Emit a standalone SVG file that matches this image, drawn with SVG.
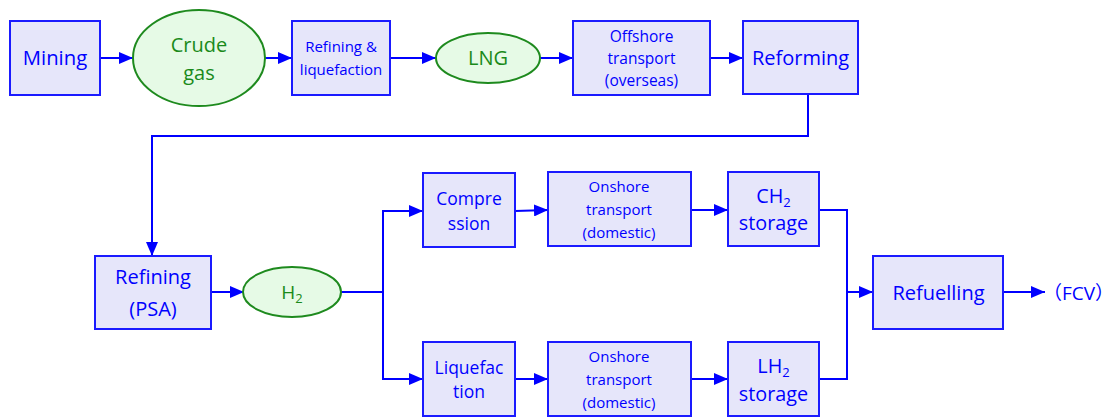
<svg xmlns="http://www.w3.org/2000/svg" width="1116" height="417" viewBox="0 0 1116 417">
<defs>
<marker id="ah" markerWidth="14" markerHeight="12" refX="14" refY="6" orient="auto" markerUnits="userSpaceOnUse">
<path d="M0,0 L14,6 L0,12 Z" fill="#0000ff"/>
</marker>
<style>
.box{fill:#e6e6fa;stroke:#1a1aff;stroke-width:2}
.ell{fill:#e6fae6;stroke:#1e8a1e;stroke-width:2}
.t{font-family:"Open Sans","Noto Sans","Noto Sans CJK SC",sans-serif;fill:#0000ff;text-anchor:middle}
.g{font-family:"Open Sans","Noto Sans",sans-serif;fill:#1a8a1a;text-anchor:middle}
.c{fill:none;stroke:#0000ff;stroke-width:2}
</style>
</defs>
<rect width="1116" height="417" fill="#fff"/>
<g id="connectors">
<path class="c" d="M100,58 H133" marker-end="url(#ah)"/>
<path class="c" d="M265,58 H292" marker-end="url(#ah)"/>
<path class="c" d="M390,58 H436" marker-end="url(#ah)"/>
<path class="c" d="M540,58 H573" marker-end="url(#ah)"/>
<path class="c" d="M710,58 H743" marker-end="url(#ah)"/>
<path class="c" d="M808,94 V136 H152 V256" marker-end="url(#ah)"/>
<path class="c" d="M211,292 H244" marker-end="url(#ah)"/>
<path class="c" d="M341,292 H383"/>
<path class="c" d="M383,379 V211 H423" marker-end="url(#ah)"/>
<path class="c" d="M383,292 V379 H423" marker-end="url(#ah)"/>
<path class="c" d="M515,211 L548,210" marker-end="url(#ah)"/>
<path class="c" d="M691,210 H728" marker-end="url(#ah)"/>
<path class="c" d="M515,379 H548" marker-end="url(#ah)"/>
<path class="c" d="M691,379 H728" marker-end="url(#ah)"/>
<path class="c" d="M819,210 H847 V379 H819"/>
<path class="c" d="M847,292 H873" marker-end="url(#ah)"/>
<path class="c" d="M1003,292 H1045" marker-end="url(#ah)"/>
</g>
<g id="mining"><rect class="box" x="10" y="21" width="90" height="74"/><text class="t" x="55" y="65" font-size="20.3">Mining</text></g>
<g id="crude-gas"><ellipse class="ell" cx="199" cy="58" rx="66" ry="48"/><text class="g" x="199" y="52" font-size="20">Crude</text><text class="g" x="199" y="80" font-size="20">gas</text></g>
<g id="refining-liquefaction"><rect class="box" x="292" y="21" width="98" height="74"/><text class="t" x="341" y="52" font-size="15">Refining &amp;</text><text class="t" x="341" y="75" font-size="15">liquefaction</text></g>
<g id="lng"><ellipse class="ell" cx="488" cy="58" rx="52" ry="25"/><text class="g" x="488" y="65" font-size="20">LNG</text></g>
<g id="offshore"><rect class="box" x="573" y="21" width="137" height="74"/><text class="t" x="641.5" y="42" font-size="15.5">Offshore</text><text class="t" x="641.5" y="64" font-size="15.5">transport</text><text class="t" x="641.5" y="86" font-size="15.5">(overseas)</text></g>
<g id="reforming"><rect class="box" x="743" y="21" width="115" height="73"/><text class="t" x="800.5" y="65" font-size="20">Reforming</text></g>
<g id="refining-psa"><rect class="box" x="95" y="256" width="116" height="73"/><text class="t" x="153" y="284" font-size="20">Refining</text><text class="t" x="153" y="316" font-size="20">(PSA)</text></g>
<g id="h2"><ellipse class="ell" cx="292" cy="292" rx="49" ry="25"/><text class="g" x="292" y="299" font-size="19">H<tspan font-size="13" dy="4">2</tspan></text></g>
<g id="compression"><rect class="box" x="423" y="173" width="92" height="74"/><text class="t" x="469" y="205" font-size="17.5">Compre</text><text class="t" x="469" y="230" font-size="17.5">ssion</text></g>
<g id="onshore-1"><rect class="box" x="548" y="172" width="143" height="74"/><text class="t" x="619" y="192" font-size="15">Onshore</text><text class="t" x="619" y="215" font-size="15">transport</text><text class="t" x="619" y="238" font-size="15">(domestic)</text></g>
<g id="ch2-storage"><rect class="box" x="728" y="172" width="91" height="74"/><text class="t" x="773.5" y="203" font-size="19.8">CH<tspan font-size="13" dy="4">2</tspan></text><text class="t" x="773.5" y="230" font-size="19.8">storage</text></g>
<g id="liquefaction"><rect class="box" x="423" y="342" width="92" height="74"/><text class="t" x="469" y="374" font-size="17.5">Liquefac</text><text class="t" x="469" y="398" font-size="17.5">tion</text></g>
<g id="onshore-2"><rect class="box" x="548" y="342" width="143" height="74"/><text class="t" x="619" y="362" font-size="15">Onshore</text><text class="t" x="619" y="385" font-size="15">transport</text><text class="t" x="619" y="408" font-size="15">(domestic)</text></g>
<g id="lh2-storage"><rect class="box" x="728" y="342" width="91" height="74"/><text class="t" x="773.5" y="373" font-size="19.8">LH<tspan font-size="13" dy="4">2</tspan></text><text class="t" x="773.5" y="401" font-size="19.8">storage</text></g>
<g id="refuelling"><rect class="box" x="873" y="256" width="130" height="73"/><text class="t" x="938.5" y="300" font-size="20">Refuelling</text></g>
<g id="fcv"><text class="t" x="1043" y="299.5" font-size="19" style="text-anchor:start">（FCV）</text></g>
</svg>
